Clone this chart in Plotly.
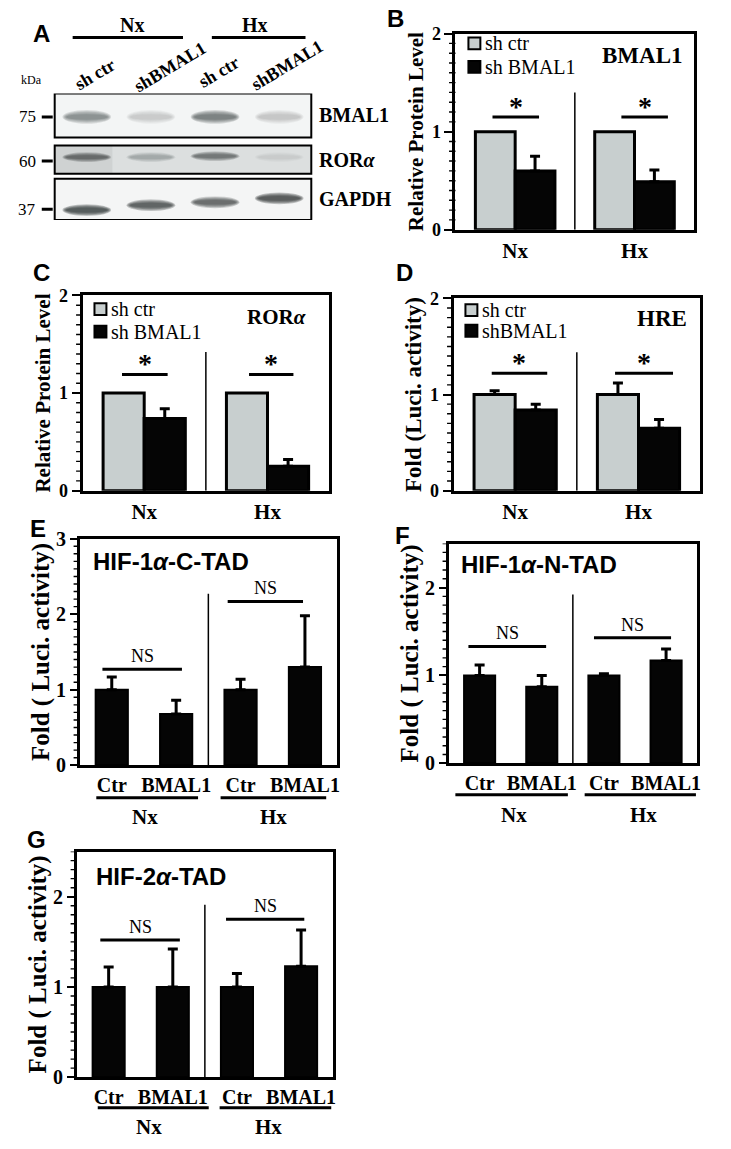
import plotly.graph_objects as go

W, H = 731, 1149
SERIF = "Liberation Serif"
SANS = "Liberation Sans"

# ---------------- data ----------------
blot_groups = ["Nx", "Hx"]
blot_lanes = ["sh ctr", "shBMAL1", "sh ctr", "shBMAL1"]
blot_proteins = ["BMAL1", "ROR<i>α</i>", "GAPDH"]
blot_kda = ["75", "60", "37"]
blot_intensity = [
    [0.45, 0.16, 0.55, 0.17],
    [0.62, 0.25, 0.55, 0.07],
    [0.88, 0.80, 0.72, 0.85],
]

bcd_groups = ["Nx", "Hx"]
B_series = ["sh ctr", "sh BMAL1"]
B_ctr = [1.0, 1.0]
B_sh = [0.60, 0.49]
B_sh_err = [0.15, 0.12]
B_sig = [1.15, 1.15]

C_series = ["sh ctr", "sh BMAL1"]
C_ctr = [1.0, 1.0]
C_sh = [0.74, 0.25]
C_sh_err = [0.10, 0.07]
C_sig = [1.19, 1.19]

D_series = ["sh ctr", "shBMAL1"]
D_ctr = [1.0, 1.0]
D_ctr_err = [0.04, 0.12]
D_sh = [0.84, 0.65]
D_sh_err = [0.06, 0.09]
D_sig = [1.22, 1.22]

efg_x = [0, 1, 2, 3]
efg_ticks = ["Ctr", "BMAL1", "Ctr", "BMAL1"]
efg_groups = ["Nx", "Hx"]
E_vals = [1.0, 0.68, 1.0, 1.30]
E_err = [0.17, 0.18, 0.14, 0.68]
E_ns = [1.27, 2.17]
F_vals = [1.0, 0.87, 1.0, 1.17]
F_err = [0.12, 0.13, 0.02, 0.13]
F_ns = [1.33, 1.43]
G_vals = [1.0, 1.0, 1.0, 1.23]
G_err = [0.22, 0.42, 0.15, 0.40]
G_ns = [1.52, 1.75]

# ---------------- helpers ----------------
GRAY = "#c8cfcf"
BLACK = "#050505"


def px_x(p):
    return p / W


def px_y(p):
    return 1 - p / H


def dom_x(a, b):
    return [a / W, b / W]


def dom_y(top, bottom):
    return [1 - bottom / H, 1 - top / H]


def yax(dom, ymax, anchor, title, tsize, ttsize, standoff, tlen):
    return dict(
        domain=dom, range=[0, ymax], anchor=anchor, tick0=0, dtick=1,
        ticks="outside", ticklen=tlen, tickwidth=2, tickcolor="black",
        showline=True, linewidth=3, linecolor="black", mirror=True,
        showgrid=False, zeroline=False, fixedrange=True,
        tickfont=dict(family=SERIF, size=tsize, color="black", weight="bold"),
        title=dict(text=title, standoff=standoff,
                   font=dict(family=SERIF, size=ttsize, color="black", weight="bold")),
    )


def xax(dom, anchor, rng, tsize, cat=False, tickvals=None, ticktext=None):
    d = dict(
        domain=dom, anchor=anchor, range=rng,
        showline=True, linewidth=3, linecolor="black", mirror=True,
        ticks="", showgrid=False, zeroline=False, fixedrange=True,
        tickfont=dict(family=SERIF, size=tsize, color="black", weight="bold"),
    )
    if cat:
        d["type"] = "category"
    if tickvals is not None:
        d["tickmode"] = "array"
        d["tickvals"] = tickvals
        d["ticktext"] = ticktext
    return d


def text(x, y, t, size, family=SERIF, bold=False, xanchor="center", yanchor="middle",
         xref="paper", yref="paper", angle=0, yshift=0):
    return dict(xref=xref, yref=yref, x=x, y=y, text=t, showarrow=False,
                xanchor=xanchor, yanchor=yanchor, textangle=angle, yshift=yshift,
                font=dict(family=family, size=size, color="black",
                          weight="bold" if bold else "normal"))


fig = go.Figure()
shapes = []
ann = []


def err(arr):
    return dict(type="data", array=arr, arrayminus=[0] * len(arr), symmetric=False,
                thickness=3, width=5, color="black")


def minor_ticks(xa, ya, ymax, plot_w, length):
    # small ticks every 0.1 along the left axis (between the labelled ticks)
    n = int(round(ymax * 10))
    for k in range(1, n + 1):
        if k % 10 == 0:
            continue
        v = k / 10
        shapes.append(dict(type="line", xref=xa + " domain", yref=ya,
                           x0=-length / plot_w, x1=0, y0=v, y1=v,
                           line=dict(color="black", width=1.4)))


# ---------------- panels B, C, D (grouped bars) ----------------
bcd = [
    ("x", "y", B_series, B_ctr, None, B_sh, B_sh_err, B_sig,
     [(-0.19, 0.20), (-0.11, 0.28)], 1.40, (471, 486, 33, 57), 240),
    ("x2", "y2", C_series, C_ctr, None, C_sh, C_sh_err, C_sig,
     [(-0.18, 0.19), (-0.15, 0.21)], 1.42, (95, 110, 304, 327), 248),
    ("x3", "y3", D_series, D_ctr, D_ctr_err, D_sh, D_sh_err, D_sig,
     [(-0.19, 0.26), (-0.19, 0.28)], 1.44, (468, 483, 305, 326), 248),
]
for xa, ya, series, ctr, ctr_err, sh, sh_err, sig, spans, divtop, lg, pw in bcd:
    fig.add_trace(go.Bar(
        x=bcd_groups, y=ctr, name=series[0], xaxis=xa, yaxis=ya, showlegend=False,
        marker=dict(color=GRAY, line=dict(color="black", width=3)),
        error_y=err(ctr_err) if ctr_err else None,
    ))
    fig.add_trace(go.Bar(
        x=bcd_groups, y=sh, name=series[1], xaxis=xa, yaxis=ya, showlegend=False,
        marker=dict(color=BLACK, line=dict(color="black", width=3)),
        error_y=err(sh_err),
    ))
    minor_ticks(xa, ya, 2, pw, 6.5)
    shapes.append(dict(type="line", xref=xa, yref=ya, x0=0.5, x1=0.5, y0=0, y1=divtop,
                       line=dict(color="black", width=1.5)))
    for i, (lo, hi) in enumerate(spans):
        shapes.append(dict(type="line", xref=xa, yref=ya, x0=i + lo, x1=i + hi,
                           y0=sig[i], y1=sig[i], line=dict(color="black", width=3)))
        ann.append(text(i + (lo + hi) / 2, sig[i], "<b>*</b>", 28, xref=xa, yref=ya,
                        yanchor="bottom", yshift=-7))
    sx, tx, y1, y2 = lg
    for yy, fill, name in [(y1, GRAY, series[0]), (y2, BLACK, series[1])]:
        shapes.append(dict(type="rect", xref="paper", yref="paper",
                           x0=px_x(sx), x1=px_x(sx + 12), y0=px_y(yy - 6), y1=px_y(yy + 6),
                           fillcolor=fill, line=dict(color="black", width=2)))
        ann.append(text(px_x(tx), px_y(yy), name, 20, xanchor="left"))

# ---------------- panels E, F, G (single bars) ----------------
efg = [
    ("x4", "y4", E_vals, E_err, E_ns, [(-0.145, 1.09), (1.80, 2.97)], 2.27,
     [(-0.24, 1.34), (1.69, 3.33)], -0.143, -0.23, [0.52, 2.51], 3, 259),
    ("x5", "y5", F_vals, F_err, F_ns, [(-0.18, 1.07), (1.84, 3.08)], 1.92,
     [(-0.39, 1.42), (1.69, 3.48)], -0.143, -0.235, [0.55, 2.63], 2.5, 250),
    ("x6", "y6", G_vals, G_err, G_ns, [(-0.13, 1.11), (1.83, 3.05)], 1.91,
     [(-0.17, 1.56), (1.73, 3.47)], -0.135, -0.222, [0.63, 2.49], 2.5, 258),
]
for xa, ya, vals, errs, ns, spans, divtop, ulines, uy, ly, lx, ymax, pw in efg:
    fig.add_trace(go.Bar(
        x=efg_x, y=vals, width=0.5, xaxis=xa, yaxis=ya, showlegend=False,
        marker=dict(color=BLACK, line=dict(color="black", width=2)),
        error_y=err(errs),
    ))
    minor_ticks(xa, ya, ymax, pw, 6)
    shapes.append(dict(type="line", xref=xa, yref=ya, x0=1.5, x1=1.5, y0=0, y1=divtop,
                       line=dict(color="black", width=1.5)))
    for i, (lo, hi) in enumerate(spans):
        shapes.append(dict(type="line", xref=xa, yref=ya, x0=lo, x1=hi, y0=ns[i], y1=ns[i],
                           line=dict(color="black", width=3)))
        ann.append(text((lo + hi) / 2, ns[i], "NS", 18, xref=xa, yref=ya,
                        yanchor="bottom", yshift=1))
    for i, (lo, hi) in enumerate(ulines):
        shapes.append(dict(type="line", xref=xa, yref=ya + " domain", x0=lo, x1=hi,
                           y0=uy, y1=uy, line=dict(color="black", width=3)))
        ann.append(text(lx[i], ly, efg_groups[i], 21, bold=True, xref=xa,
                        yref=ya + " domain"))

# ---------------- panel A (western blot) ----------------
fig.add_trace(go.Scatter(x=[0, 3], y=[150, 150], xaxis="x7", yaxis="y7", mode="markers",
                         marker=dict(opacity=0), showlegend=False, hoverinfo="skip"))

box_rows = [(84, 129), (137, 166), (171, 213)]
box_fill = ["#f3f5f5", "#dcdfdf", "#f4f5f5"]
band_y = [[108, 108, 108, 108], [149, 149, 148, 149], [203, 198, 195, 191]]
band_hh = [7, 5, 6]
marker_y = [108, 153, 202]

for r, (t, b) in enumerate(box_rows):
    shapes.append(dict(type="rect", xref="x7 domain", yref="y7", x0=0, x1=1, y0=t, y1=b,
                       fillcolor=box_fill[r], line=dict(width=0), layer="below"))
    if r == 1:
        shapes.append(dict(type="rect", xref="x7", yref="y7", x0=-0.5, x1=0.4, y0=t, y1=b,
                           fillcolor="#cfd2d2", line=dict(width=0), layer="below"))
    for l, inten in enumerate(blot_intensity[r]):
        for s in [1.0, 0.85, 0.7, 0.55, 0.4]:
            hw = 0.38 * (0.75 + 0.25 * s)
            hh = band_hh[r] * s
            shapes.append(dict(type="circle", xref="x7", yref="y7",
                               x0=l - hw, x1=l + hw,
                               y0=band_y[r][l] - hh, y1=band_y[r][l] + hh,
                               fillcolor=f"rgba(35,40,40,{inten * 0.27:.3f})",
                               line=dict(width=0)))
    shapes.append(dict(type="rect", xref="x7 domain", yref="y7", x0=0, x1=1, y0=t, y1=b,
                       line=dict(color="black", width=2)))
    ann.append(text(px_x(319), (t + b) / 2, blot_proteins[r], 20, bold=True,
                    xanchor="left", yref="y7"))
    ann.append(text(px_x(38), marker_y[r], blot_kda[r], 17, xanchor="right", yref="y7"))
    shapes.append(dict(type="line", xref="paper", yref="y7", x0=px_x(42), x1=px_x(53),
                       y0=marker_y[r], y1=marker_y[r], line=dict(color="black", width=3)))

ann.append(text(px_x(32), px_y(70), "kDa", 12))

group_span = [(-0.22, 1.50), (1.95, 3.41)]
group_lx = [0.71, 2.63]
for i, g in enumerate(blot_groups):
    lo, hi = group_span[i]
    shapes.append(dict(type="line", xref="x7", yref="paper", x0=lo, x1=hi,
                       y0=px_y(27), y1=px_y(27), line=dict(color="black", width=3)))
    ann.append(text(group_lx[i], px_y(14), g, 20, bold=True, xref="x7"))

lane_cx = [96, 171, 220, 289]
lane_cy = [64, 57, 62, 55]
for l, name in enumerate(blot_lanes):
    ann.append(text(px_x(lane_cx[l]), px_y(lane_cy[l]), name, 18, bold=True, angle=-31))

# ---------------- titles and panel letters ----------------
titles = [
    (689, 45, "right", "BMAL1", SERIF, 23),
    (310, 312, "right", "ROR<i>α</i>", SERIF, 21),
    (693, 313, "right", "HRE", SERIF, 23),
    (92, 561, "left", "HIF-1<i>α</i>-C-TAD", SANS, 24),
    (462, 564, "left", "HIF-1<i>α</i>-N-TAD", SANS, 24),
    (95, 882, "left", "HIF-2<i>α</i>-TAD", SANS, 24),
]
for x, y, xa, txt, fam, sz in titles:
    ann.append(text(px_x(x), px_y(y), txt, sz, family=fam, bold=True, xanchor=xa))

letters = [("A", 42, 23), ("B", 398, 8), ("C", 42, 267), ("D", 407, 267),
           ("E", 38, 528), ("F", 405, 535), ("G", 37, 845)]
for t, x, y in letters:
    ann.append(text(px_x(x), px_y(y), t, 24, family=SANS, bold=True))

fig.update_layout(
    width=W, height=H, margin=dict(l=0, r=0, t=0, b=0),
    paper_bgcolor="white", plot_bgcolor="rgba(0,0,0,0)",
    barmode="group", bargap=1 / 3, bargroupgap=0,
    showlegend=False,
    xaxis=xax(dom_x(458, 698), "y", [-0.5, 1.5], 21, cat=True),
    yaxis=yax(dom_y(23, 223), 2, "x", "Relative Protein Level", 18, 21, 3, 8),
    xaxis2=xax(dom_x(83, 331), "y2", [-0.5, 1.5], 21, cat=True),
    yaxis2=yax(dom_y(290, 489), 2, "x2", "Relative Protein Level", 18, 21, 3, 8),
    xaxis3=xax(dom_x(456, 704), "y3", [-0.5, 1.5], 21, cat=True),
    yaxis3=yax(dom_y(293, 489), 2, "x3", "Fold (Luci. activity)", 18, 23, 2, 8),
    xaxis4=xax(dom_x(80, 339), "y4", [-0.5, 3.5], 20, tickvals=efg_x, ticktext=efg_ticks),
    yaxis4=yax(dom_y(538, 769), 3, "x4", "Fold ( Luci. activity)", 20, 25, 0, 6.5),
    xaxis5=xax(dom_x(451, 701), "y5", [-0.5, 3.5], 20, tickvals=efg_x, ticktext=efg_ticks),
    yaxis5=yax(dom_y(543, 767), 2.5, "x5", "Fold ( Luci. activity)", 20, 25, 0, 6.5),
    xaxis6=xax(dom_x(77, 335), "y6", [-0.5, 3.5], 20, tickvals=efg_x, ticktext=efg_ticks),
    yaxis6=yax(dom_y(857, 1087), 2.5, "x6", "Fold ( Luci. activity)", 20, 25, 0, 6.5),
    xaxis7=dict(domain=dom_x(55, 313), range=[-0.5, 3.5], anchor="y7", visible=False,
                fixedrange=True),
    yaxis7=dict(domain=dom_y(84, 213), range=[213, 84], anchor="x7", visible=False,
                fixedrange=True),
    shapes=shapes, annotations=ann,
)

fig.write_html("out.html", config={"displayModeBar": False},
               post_script="document.body.style.margin='0';document.body.style.overflow='hidden';")
